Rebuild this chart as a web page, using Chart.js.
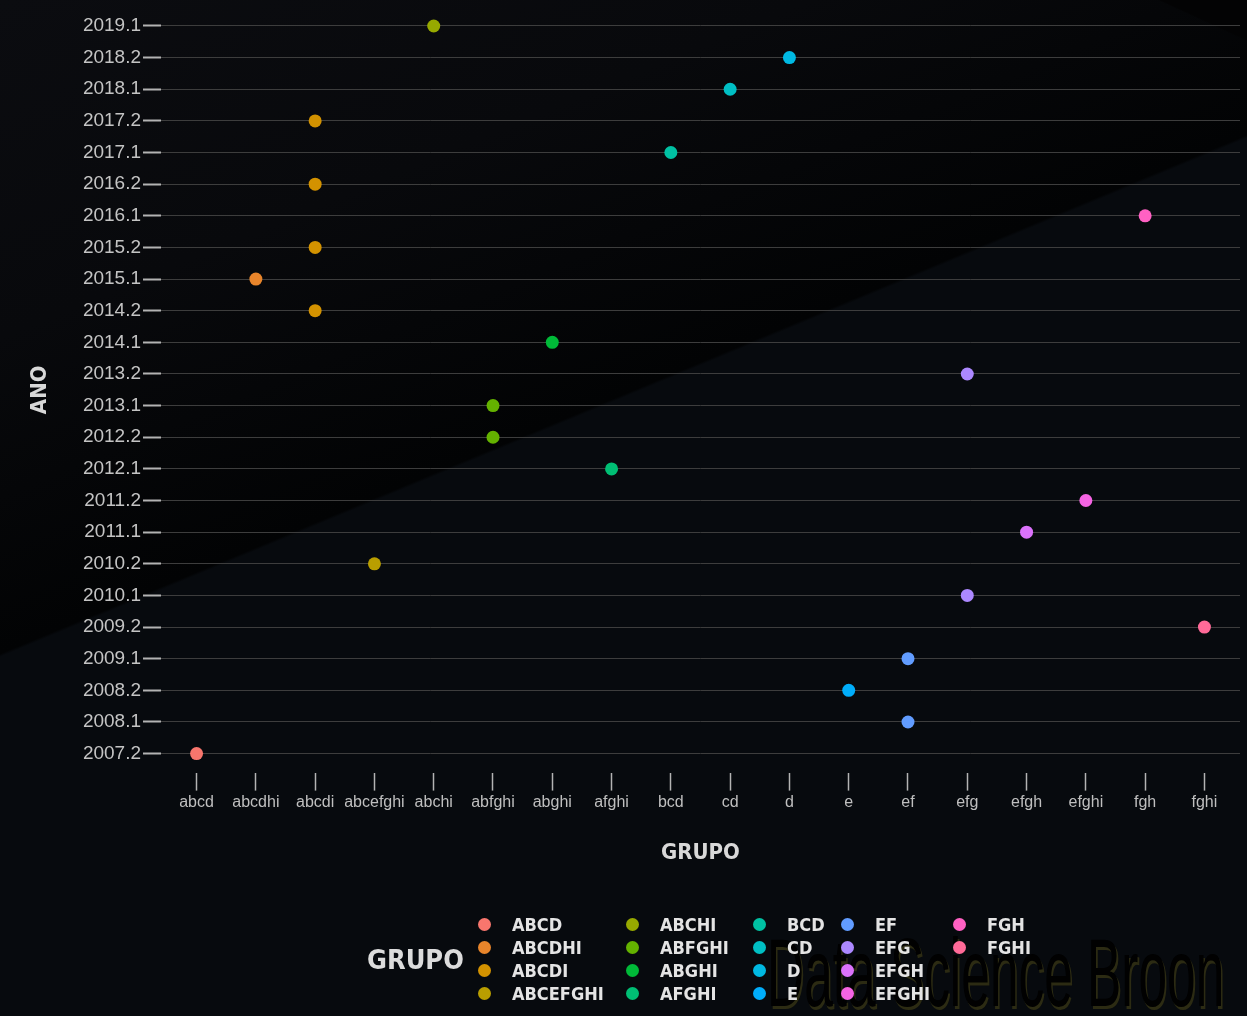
<!DOCTYPE html>
<html>
<head>
<meta charset="utf-8">
<script src="https://cdn.jsdelivr.net/npm/chart.js@4.4.1/dist/chart.umd.min.js"></script>
<style>
  html, body { margin: 0; padding: 0; }
  body {
    width: 1247px; height: 1016px; overflow: hidden; position: relative;
    background:
      linear-gradient(24.7deg, rgba(0,0,0,0) 97.4%, #030304 97.5%),
      linear-gradient(337.4deg, #070a0e 0%, #070a0e 57.2%, #020304 57.4%, #08090c 78%, #0b0c10 100%);
  }
  #chart { position: absolute; left: 0; top: 0; }
  #watermark {
    position: absolute; left: 767px; top: 918px;
    font-family: 'Liberation Sans', Arial, sans-serif; font-size: 97px; line-height: 110px;
    color: #010101; text-shadow: 3px 3px 0 #2c2b13;
    transform: scaleX(0.53); transform-origin: 0 0; white-space: nowrap;
  }
  #legendTitle {
    position: absolute; left: 367px; top: 943px;
    font-family: 'DejaVu Sans Condensed', 'DejaVu Sans', sans-serif; font-weight: bold;
    font-size: 27px; line-height: 34px; color: #dcdcdc;
  }
  #legend {
    position: absolute; left: 478px; top: 913px;
    display: grid; grid-auto-flow: column;
    grid-template-rows: repeat(4, 23px);
    grid-template-columns: 148px 127px 88px 112px 120px;
  }
  .item { display: flex; align-items: center; height: 23px; }
  .dot { width: 13px; height: 13px; border-radius: 50%; margin-right: 21px; flex: none; }
  .txt {
    font-family: 'DejaVu Sans Condensed', 'DejaVu Sans', sans-serif; font-weight: bold;
    font-size: 18px; color: #e4e4e4; white-space: nowrap;
  }
</style>
</head>
<body>
<canvas id="chart" width="1247" height="1016"></canvas>
<div id="watermark">Data Science Broon</div>
<div id="legendTitle">GRUPO</div>
<div id="legend"></div>
<script>
// ---- data ----
const groups = ['abcd','abcdhi','abcdi','abcefghi','abchi','abfghi','abghi','afghi','bcd','cd','d','e','ef','efg','efgh','efghi','fgh','fghi'];
const periods = ['2007.2','2008.1','2008.2','2009.1','2009.2','2010.1','2010.2','2011.1','2011.2','2012.1','2012.2','2013.1','2013.2','2014.1','2014.2','2015.1','2015.2','2016.1','2016.2','2017.1','2017.2','2018.1','2018.2','2019.1'];
const groupColors = ['#F8766D','#E8852B','#D39200','#B99E00','#97A900','#64B200','#00BA38','#00BF74','#00C1A3','#00BFC4','#00B9E3','#00ADFA','#619CFF','#AC88FF','#DB72FB','#F564E3','#FF61C3','#FF6A98'];
// observations: group and period of each point
const obsGroup  = ['abcd','abcdhi','abcdi','abcdi','abcdi','abcdi','abcefghi','abchi','abfghi','abfghi','abghi','afghi','bcd','cd','d','e','ef','ef','efg','efg','efgh','efghi','fgh','fghi'];
const obsPeriod = ['2007.2','2015.1','2014.2','2015.2','2016.2','2017.2','2010.2','2019.1','2012.2','2013.1','2014.1','2012.1','2017.1','2018.1','2018.2','2008.2','2008.1','2009.1','2010.1','2013.2','2011.1','2011.2','2016.1','2009.2'];
const xTitle = 'GRUPO';
const yTitle = 'ANO';

// ---- build datasets ----
const datasets = groups.map((g, gi) => ({
  label: g.toUpperCase(),
  data: obsGroup.map((og, k) => og === g ? { x: gi, y: periods.indexOf(obsPeriod[k]) } : null).filter(Boolean),
  backgroundColor: groupColors[gi],
  borderWidth: 0,
  pointRadius: 6.5,
  pointHoverRadius: 6.5
}));

const titleFont = { family: "'DejaVu Sans Condensed', 'DejaVu Sans', sans-serif", size: 22, weight: 'bold' };

new Chart(document.getElementById('chart'), {
  type: 'scatter',
  data: { datasets },
  options: {
    responsive: false,
    animation: false,
    devicePixelRatio: 1,
    layout: { padding: { top: 7, right: 7, left: 8, bottom: 149.8 } },
    plugins: { legend: { display: false }, tooltip: { enabled: false } },
    scales: {
      x: {
        type: 'linear',
        min: -0.6, max: groups.length - 1 + 0.6,
        afterBuildTicks: a => { a.ticks = groups.map((g, i) => ({ value: i })); },
        afterFit: a => { a.height = 93.6; a.paddingLeft = 0; a.paddingRight = 0; },
        ticks: {
          callback: v => groups[Math.round(v)],
          autoSkip: false, maxRotation: 0, minRotation: 0,
          font: { family: "'Liberation Sans', Arial, sans-serif", size: 16 },
          color: '#bfbfbf', padding: 2
        },
        grid: { drawOnChartArea: false, drawTicks: true, tickLength: 18, tickColor: '#b3b3b3', tickWidth: 1.5 },
        border: { display: false },
        title: { display: true, text: xTitle, font: titleFont, color: '#d8d8d8', padding: { top: 0, bottom: 0 } }
      },
      y: {
        type: 'linear',
        min: -0.6, max: periods.length - 1 + 0.6,
        afterBuildTicks: a => { a.ticks = periods.map((p, i) => ({ value: i })); },
        afterFit: a => { a.width = 153; a.paddingTop = 0; a.paddingBottom = 0; },
        ticks: {
          callback: v => periods[Math.round(v)],
          autoSkip: false,
          font: { family: "'Liberation Sans', Arial, sans-serif", size: 19 },
          color: '#c4c4c4', padding: 2
        },
        grid: { color: '#3d3d3d', lineWidth: 1, tickLength: 18, tickColor: '#b3b3b3', tickWidth: 2 },
        border: { display: false },
        title: { display: true, text: yTitle, font: titleFont, color: '#d8d8d8', padding: { top: 18.8, bottom: 0 } }
      }
    }
  }
});

// ---- HTML legend (column-major, 4 rows) ----
const legend = document.getElementById('legend');
datasets.forEach(ds => {
  const item = document.createElement('div');
  item.className = 'item';
  const dot = document.createElement('span');
  dot.className = 'dot';
  dot.style.background = ds.backgroundColor;
  const txt = document.createElement('span');
  txt.className = 'txt';
  txt.textContent = ds.label;
  item.appendChild(dot); item.appendChild(txt);
  legend.appendChild(item);
});
</script>
</body>
</html>
